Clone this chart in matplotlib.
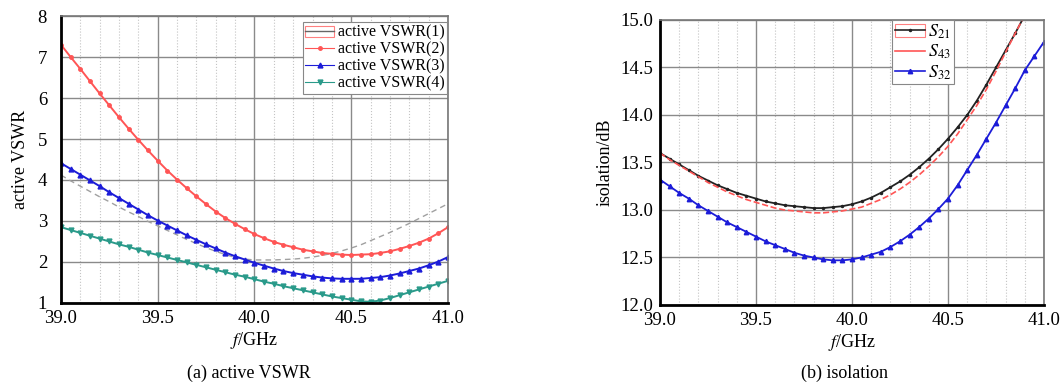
import matplotlib

matplotlib.use("Agg")

import matplotlib.pyplot as plt
import numpy as np
from matplotlib.lines import Line2D
from matplotlib.patches import Patch
from matplotlib.ticker import MultipleLocator, FormatStrFormatter

# frequency grid shared by all curves (GHz)
freq = [39.00, 39.05, 39.10, 39.15, 39.20, 39.25, 39.30, 39.35, 39.40, 39.45,
        39.50, 39.55, 39.60, 39.65, 39.70, 39.75, 39.80, 39.85, 39.90, 39.95,
        40.00, 40.05, 40.10, 40.15, 40.20, 40.25, 40.30, 40.35, 40.40, 40.45,
        40.50, 40.55, 40.60, 40.65, 40.70, 40.75, 40.80, 40.85, 40.90, 40.95,
        41.00]

# (a) active VSWR
vswr1 = [4.12, 3.98, 3.85, 3.72, 3.59, 3.47, 3.34, 3.22, 3.11, 2.99,
         2.88, 2.77, 2.66, 2.55, 2.45, 2.35, 2.26, 2.18, 2.11, 2.07,
         2.05, 2.05, 2.05, 2.06, 2.07, 2.09, 2.12, 2.16, 2.21, 2.27,
         2.34, 2.42, 2.52, 2.62, 2.72, 2.83, 2.94, 3.06, 3.18, 3.30,
         3.42]
vswr2 = [7.30, 7.00, 6.71, 6.41, 6.11, 5.82, 5.53, 5.25, 4.98, 4.72,
         4.47, 4.23, 4.01, 3.80, 3.60, 3.41, 3.23, 3.07, 2.93, 2.80,
         2.68, 2.58, 2.49, 2.42, 2.36, 2.30, 2.26, 2.22, 2.20, 2.18,
         2.17, 2.18, 2.19, 2.22, 2.26, 2.32, 2.39, 2.47, 2.57, 2.70,
         2.85]
vswr3 = [4.41, 4.27, 4.13, 3.99, 3.85, 3.70, 3.56, 3.42, 3.28, 3.14,
         3.01, 2.89, 2.77, 2.65, 2.54, 2.43, 2.33, 2.23, 2.14, 2.06,
         1.98, 1.91, 1.84, 1.78, 1.73, 1.69, 1.65, 1.62, 1.60, 1.59,
         1.59, 1.59, 1.61, 1.63, 1.67, 1.72, 1.78, 1.84, 1.92, 2.01,
         2.12]
vswr4 = [2.85, 2.78, 2.71, 2.64, 2.57, 2.50, 2.43, 2.37, 2.30, 2.23,
         2.17, 2.11, 2.05, 1.99, 1.93, 1.87, 1.81, 1.75, 1.69, 1.64,
         1.58, 1.52, 1.47, 1.41, 1.36, 1.31, 1.26, 1.21, 1.16, 1.12,
         1.08, 1.04, 1.03, 1.06, 1.12, 1.19, 1.26, 1.33, 1.40, 1.47,
         1.54]

# (b) isolation in dB
s21 = [13.60, 13.54, 13.48, 13.42, 13.36, 13.31, 13.26, 13.22, 13.18, 13.15,
       13.12, 13.09, 13.07, 13.05, 13.04, 13.03, 13.02, 13.02, 13.03, 13.04,
       13.06, 13.09, 13.13, 13.18, 13.24, 13.30, 13.37, 13.45, 13.54, 13.64,
       13.75, 13.87, 14.00, 14.15, 14.32, 14.50, 14.68, 14.86, 15.05, 15.24,
       15.44]
s43 = [13.60, 13.53, 13.47, 13.41, 13.35, 13.29, 13.24, 13.19, 13.15, 13.11,
       13.08, 13.05, 13.02, 13.00, 12.99, 12.98, 12.97, 12.97, 12.98, 12.99,
       13.01, 13.03, 13.07, 13.11, 13.16, 13.22, 13.29, 13.37, 13.46, 13.56,
       13.67, 13.80, 13.95, 14.10, 14.27, 14.46, 14.66, 14.86, 15.05, 15.24,
       15.44]
s32 = [13.32, 13.25, 13.18, 13.12, 13.05, 12.99, 12.93, 12.87, 12.82, 12.77,
       12.72, 12.67, 12.63, 12.59, 12.55, 12.52, 12.50, 12.48, 12.47, 12.47,
       12.48, 12.50, 12.53, 12.56, 12.61, 12.67, 12.74, 12.82, 12.91, 13.01,
       13.12, 13.26, 13.42, 13.58, 13.75, 13.92, 14.10, 14.28, 14.47, 14.62,
       14.77]

RED = "#ff5555"
BLUE = "#1c1cd8"
TEAL = "#2a9a8a"
GRAY = "#a0a0a0"
BLACK = "#222222"


def style_axes(ax, ylim, ymajor):
    ax.set_xlim(39.0, 41.0)
    ax.set_ylim(*ylim)
    ax.xaxis.set_major_locator(MultipleLocator(0.5))
    ax.xaxis.set_minor_locator(MultipleLocator(0.1))
    ax.yaxis.set_major_locator(MultipleLocator(ymajor))
    ax.grid(which="major", color="#8a8a8a", linewidth=1.0, linestyle="-")
    ax.grid(which="minor", axis="x", color="#c4c4c4", linewidth=0.8, linestyle=":")
    ax.set_axisbelow(True)
    ax.tick_params(which="both", length=0)
    ax.tick_params(axis="x", pad=5)
    for side in ("left", "bottom"):
        ax.spines[side].set_color("black")
        ax.spines[side].set_linewidth(2.0)
    for side in ("top", "right"):
        ax.spines[side].set_color("#777777")
        ax.spines[side].set_linewidth(1.2)
    ax.set_xlabel(r"$\it{f}$/GHz", labelpad=2)


plt.rcParams.update({
    "font.family": ["Liberation Serif", "DejaVu Serif"],
    "mathtext.fontset": "stix",
    "font.size": 13,
    "xtick.labelsize": 13.5,
    "ytick.labelsize": 13.5,
})

fig = plt.figure(figsize=(10.6, 3.83), dpi=100)
ax1 = fig.add_axes([0.0575, 0.2089, 0.3651, 0.7493])
ax2 = fig.add_axes([0.6226, 0.2037, 0.3623, 0.7441])

# ---- (a) active VSWR ----
ax1.plot(freq, vswr1, color=GRAY, linestyle="--", linewidth=1.0, dashes=(4, 3))
ax1.plot(freq, vswr2, color=RED, linewidth=1.4, marker="o", markersize=2.5)
ax1.plot(freq, vswr3, color=BLUE, linewidth=1.4, marker="^", markersize=3.5)
ax1.plot(freq, vswr4, color=TEAL, linewidth=1.4, marker="v", markersize=3.5)
style_axes(ax1, (1, 8), 1)
ax1.tick_params(axis="y", pad=10)
ax1.set_ylabel("active VSWR", labelpad=6)

h1 = (Patch(facecolor="white", edgecolor="#ff8080", linewidth=0.8),
      Line2D([], [], color="#666666", linewidth=1.0))
h2 = Line2D([], [], color=RED, linewidth=0.8, marker="o", markersize=2.5)
h3 = Line2D([], [], color=BLUE, linewidth=0.8, marker="^", markersize=3.5)
h4 = Line2D([], [], color=TEAL, linewidth=0.8, marker="v", markersize=3.5)
leg1 = ax1.legend([h1, h2, h3, h4],
                  ["active VSWR(1)", "active VSWR(2)", "active VSWR(3)", "active VSWR(4)"],
                  loc="upper right", bbox_to_anchor=(0.998, 0.978), fontsize=11.5,
                  fancybox=False, framealpha=1, edgecolor="#888888",
                  borderpad=0.15, labelspacing=0.05, handlelength=1.8,
                  handletextpad=0.25, borderaxespad=0)
leg1.get_frame().set_linewidth(0.8)

# ---- (b) isolation ----
ax2.plot(freq, s21, color=BLACK, linewidth=1.3, marker=".", markersize=3)
ax2.plot(freq, s43, color=RED, linewidth=1.2, linestyle="--")
ax2.plot(freq, s32, color=BLUE, linewidth=1.3, marker="^", markersize=3.2)
style_axes(ax2, (12.0, 15.0), 0.5)
ax2.yaxis.set_major_formatter(FormatStrFormatter("%.1f"))
ax2.tick_params(axis="y", pad=5)
ax2.set_ylabel("isolation/dB", labelpad=5)

g1 = (Patch(facecolor="white", edgecolor="#ff8080", linewidth=0.8),
      Line2D([], [], color=BLACK, linewidth=1.2, marker=".", markersize=3))
g2 = Line2D([], [], color=RED, linewidth=1.2)
g3 = Line2D([], [], color=BLUE, linewidth=1.2, marker="^", markersize=3.2)
leg2 = ax2.legend([g1, g2, g3], [r"$S_{21}$", r"$S_{43}$", r"$S_{32}$"],
                  loc="upper left", bbox_to_anchor=(0.604, 1.0), fontsize=13,
                  fancybox=False, framealpha=1, edgecolor="#888888",
                  borderpad=0.15, labelspacing=0.1, handlelength=1.7,
                  handletextpad=0.15, borderaxespad=0)
leg2.get_frame().set_linewidth(0.8)

fig.text(0.235, 0.026, "(a) active VSWR", ha="center", va="center", fontsize=13)
fig.text(0.797, 0.026, "(b) isolation", ha="center", va="center", fontsize=13)

fig.savefig("out.png", dpi=100)
